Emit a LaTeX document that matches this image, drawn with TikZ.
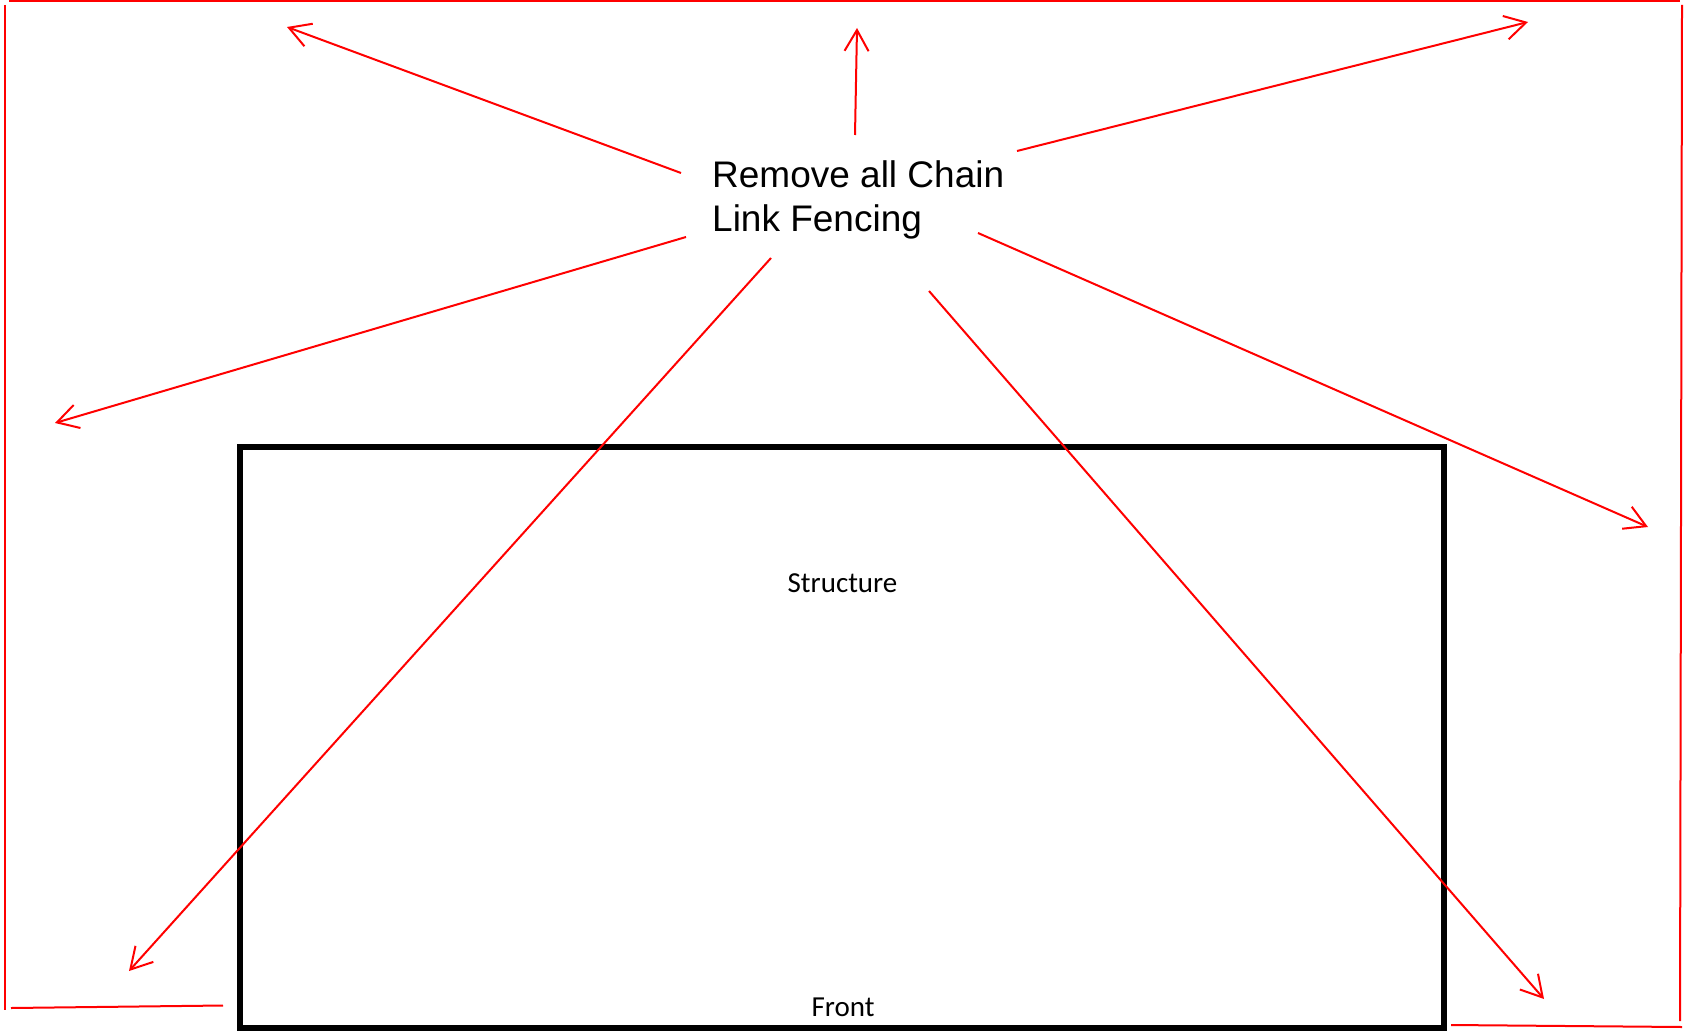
\documentclass[tikz,border=0pt]{standalone}
\usepackage{fontspec}
\setmainfont{Liberation Sans}
\newfontfamily\calfont{Carlito}
\usetikzlibrary{arrows.meta}
\definecolor{fencered}{RGB}{255,0,0}
\tikzset{
  fence/.style={draw=fencered, line width=2pt},
  ray/.style={draw=fencered, line width=2pt, -{Straight Barb[length=21pt,width=24pt,line width=2pt]}},
  building/.style={draw=black, line width=6pt, outer sep=0pt, inner sep=0pt},
  biglabel/.style={inner sep=0pt, anchor=base west, align=left, font=\fontsize{37}{44}\selectfont},
  smalllabel/.style={inner sep=0pt, anchor=base, font=\calfont\fontsize{29}{34}\selectfont}
}
\begin{document}
\begin{tikzpicture}[x=1pt,y=-1pt]
\useasboundingbox (0,0) rectangle (1685,1032);
\fill[white] (0,0) rectangle (1685,1032);
% fence outline
\coordinate (ftl) at (9,1);
\coordinate (ftr) at (1680,1);
\coordinate (fl1) at (4.5,5);
\coordinate (fl2) at (4.5,1010);
\coordinate (fb1) at (11,1008);
\coordinate (fb2) at (223,1005.5);
\coordinate (fr1) at (1682,5);
\coordinate (fr2) at (1680,1021);
\coordinate (fb3) at (1451,1025);
\coordinate (fb4) at (1682,1027);
\draw[fence] (ftl) -- (ftr);
\draw[fence] (fl1) -- (fl2);
\draw[fence] (fb1) -- (fb2);
\draw[fence] (fr1) -- (fr2);
\draw[fence] (fb3) -- (fb4);
% structure
\node[building, minimum width=1204pt, minimum height=581pt, anchor=north west] (struct) at (240,447) {};
\node[smalllabel] (structlabel) at (842.5,592) {Structure};
\node[smalllabel] (frontlabel) at (843,1016.5) {Front};
% main label (anchor = baseline of the last line)
\node[biglabel] (remove) at (712,231.7) {Remove all Chain\\Link Fencing};
% arrow start / end points
\coordinate (s1) at (681,173);   \coordinate (t1) at (287,27);
\coordinate (s2) at (855,135);   \coordinate (t2) at (857,28);
\coordinate (s3) at (1017,151);  \coordinate (t3) at (1528,22);
\coordinate (s4) at (686,237);   \coordinate (t4) at (55,423);
\coordinate (s5) at (978,233);   \coordinate (t5) at (1648,527);
\coordinate (s6) at (771,258);   \coordinate (t6) at (129,971);
\coordinate (s7) at (929,291);   \coordinate (t7) at (1544,999);
\draw[ray] (s1) -- (t1);
\draw[ray] (s2) -- (t2);
\draw[ray] (s3) -- (t3);
\draw[ray] (s4) -- (t4);
\draw[ray] (s5) -- (t5);
\draw[ray] (s6) -- (t6);
\draw[ray] (s7) -- (t7);
\end{tikzpicture}
\end{document}
